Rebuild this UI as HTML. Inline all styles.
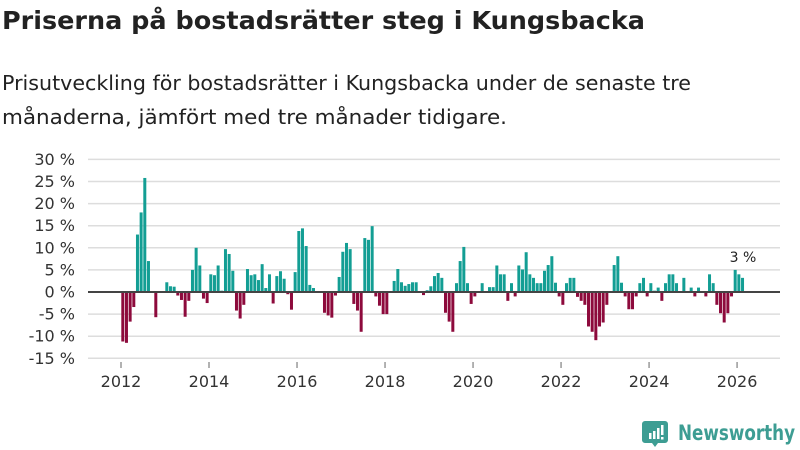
<!DOCTYPE html>
<html><head><meta charset="utf-8"><style>
body{margin:0;background:#fff;font-family:"Liberation Sans","DejaVu Sans",sans-serif;}
#wrap{position:relative;width:800px;height:450px;overflow:hidden;}
</style></head><body>
<div id="wrap">
<svg width="800" height="450" id="svg" style="font-family:'DejaVu Sans','Liberation Sans',sans-serif">
<text x="2" y="29" font-size="25" font-weight="bold" fill="#222" textLength="643" lengthAdjust="spacingAndGlyphs">Priserna på bostadsrätter steg i Kungsbacka</text>
<text x="2" y="90" font-size="20.5" fill="#222" textLength="689" lengthAdjust="spacingAndGlyphs">Prisutveckling för bostadsrätter i Kungsbacka under de senaste tre</text>
<text x="2" y="124" font-size="20.5" fill="#222" textLength="505" lengthAdjust="spacingAndGlyphs">månaderna, jämfört med tre månader tidigare.</text>
<g id="grid"></g><g id="bars"></g><g id="axes"></g>
<text x="743" y="262" font-size="14" fill="#222" text-anchor="middle">3 %</text>
<g>
<path d="M645 421 h20 a3 3 0 0 1 3 3 v16 a3 3 0 0 1 -3 3 h-7 l-3 4 l-3 -4 h-7 a3 3 0 0 1 -3 -3 v-16 a3 3 0 0 1 3 -3z" fill="#3d9d93"/>
<rect x="649" y="433" width="2.5" height="6" fill="#fff"/><rect x="653" y="431" width="2.5" height="8" fill="#fff"/><rect x="657" y="428" width="2.5" height="11" fill="#fff"/><rect x="661" y="425" width="2.5" height="10" fill="#fff"/><rect x="661" y="437" width="2.5" height="2.5" fill="#fff"/>
<text x="678" y="440" font-size="21" fill="#3d9d93" font-weight="bold" textLength="117" lengthAdjust="spacingAndGlyphs">Newsworthy</text>
</g>
</svg>
</div>
<script>
const yTicks=[30,25,20,15,10,5,0,-5,-10,-15];
const xTickYears=[2012,2014,2016,2018,2020,2022,2024,2026];
const startYear=2012;
const values=[-11.2,-11.5,-6.7,-3.4,13,18,25.8,7,0,-5.7,0,0,2.2,1.3,1.2,-0.8,-1.8,-5.6,-2,5,10,6,-1.5,-2.5,4,3.8,6,0.3,9.7,8.6,4.8,-4.2,-6,-2.9,5.2,3.8,4,2.7,6.3,0.9,4,-2.6,3.6,4.7,3,-0.5,-4,4.5,13.8,14.4,10.4,1.6,0.9,0,0,-4.7,-5.3,-5.8,-0.8,3.4,9.1,11.1,9.7,-2.7,-4.2,-9,12.2,11.8,14.9,-1,-3.1,-5,-5,0,2.5,5.2,2.2,1.4,1.8,2.2,2.2,0,-0.7,0.4,1.3,3.6,4.3,3.2,-4.7,-6.7,-9,2,7,10.2,2,-2.7,-1,0,2,0,1.1,1.1,6,4,4,-2,2,-1,6,5.1,9,4,3.2,2,2,4.8,6.1,8.1,2.1,-1,-2.9,2,3.2,3.2,-1.1,-2,-2.9,-7.8,-9,-10.9,-7.8,-6.9,-2.9,0,6.1,8.1,2.1,-1,-3.9,-3.9,-1,2,3.2,-1,2,0.3,1,-2,2,4,4,2,0,3.2,0,1,-1,1,0,-1,4,2,-2.9,-4.8,-6.9,-4.8,-1,5,4,3.2];
const NS="http://www.w3.org/2000/svg";
function y(v){return 292-v*4.42;}
function x(m){return 121+m*3.667;}
const grid=document.getElementById('grid'),bars=document.getElementById('bars'),axes=document.getElementById('axes');
yTicks.forEach(t=>{
  if(t!==0){const l=document.createElementNS(NS,'line');
  l.setAttribute('x1',88);l.setAttribute('x2',780);l.setAttribute('y1',y(t));l.setAttribute('y2',y(t));
  l.setAttribute('stroke','#ddd');l.setAttribute('stroke-width','1.5');
  
  
  grid.appendChild(l);}
  const tx=document.createElementNS(NS,'text');
  tx.setAttribute('x',75);tx.setAttribute('y',y(t)+5.5);tx.setAttribute('text-anchor','end');
  tx.setAttribute('font-size','16');tx.setAttribute('fill','#333');
  tx.textContent=t+' %';
  
  
  axes.appendChild(tx);
});
values.forEach((v,i)=>{
  const r=document.createElementNS(NS,'rect');
  const top=Math.min(y(v),y(0)),h=Math.abs(y(v)-y(0));
  r.setAttribute('x',x(i)+0.3);r.setAttribute('width',3);
  r.setAttribute('y',top);r.setAttribute('height',h);
  r.setAttribute('fill',v>=0?'#139e94':'#8d0a3c');
  
  
  bars.appendChild(r);
});
const z=document.createElementNS(NS,'line');
z.setAttribute('x1',88);z.setAttribute('x2',780);z.setAttribute('y1',y(0));z.setAttribute('y2',y(0));
z.setAttribute('stroke','#444');z.setAttribute('stroke-width','2');


axes.appendChild(z);
xTickYears.forEach(yr=>{
  const px=x((yr-startYear)*12);
  const tk=document.createElementNS(NS,'line');
  tk.setAttribute('x1',px);tk.setAttribute('x2',px);tk.setAttribute('y1',362);tk.setAttribute('y2',368);
  tk.setAttribute('stroke','#666');
  
  
  axes.appendChild(tk);
  const tx=document.createElementNS(NS,'text');
  tx.setAttribute('x',px);tx.setAttribute('y',387);tx.setAttribute('text-anchor','middle');
  tx.setAttribute('font-size','16');tx.setAttribute('fill','#333');
  tx.textContent=yr;
  
  
  axes.appendChild(tx);
});
</script>
</body></html>
